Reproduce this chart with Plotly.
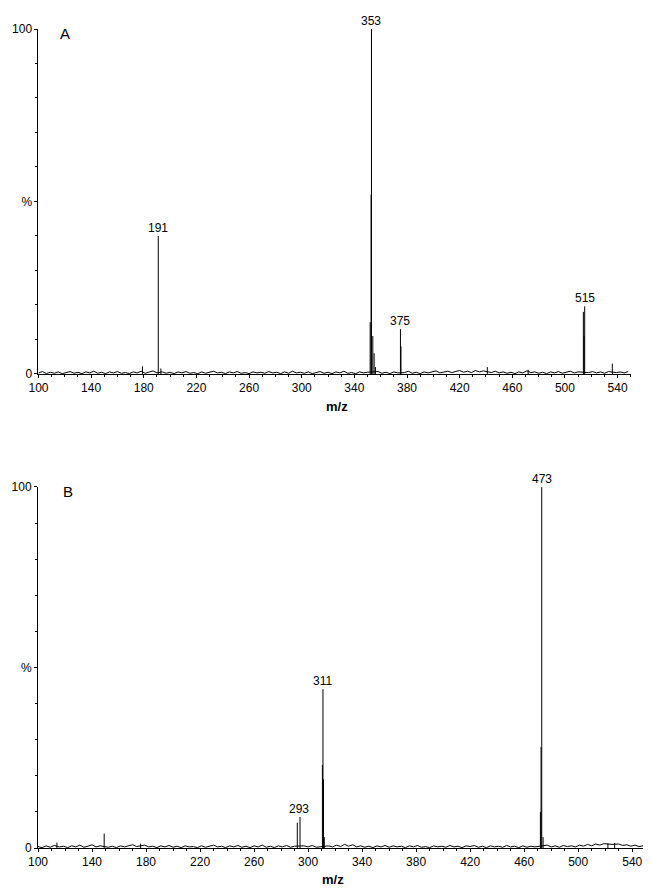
import plotly.graph_objects as go

# ---------------- data ----------------
# Panel A: main peaks (m/z, relative intensity %)
peaks_A_mz = [179, 191, 193, 352, 352.7, 353, 354, 355, 356, 375, 375.4, 441, 472, 514, 514.5, 515, 536]
peaks_A_int = [2.2, 40, 1.6, 15, 52, 100, 11, 6, 2, 13, 8, 2.0, 1.2, 18, 11, 19.6, 3.0]
labels_A_mz = [191, 353, 375, 515]
labels_A_txt = ["191", "353", "375", "515"]
labels_A_y = [40, 100, 13, 19.6]

# Panel A baseline noise
noise_A_mz = [100, 103, 106, 109, 112, 115, 118, 121, 124, 127, 130, 133, 136, 139, 142, 145, 148,
              151, 154, 157, 160, 163, 166, 169, 172, 175, 178, 181, 184, 187, 190, 194, 197, 200,
              203, 206, 209, 212, 215, 218, 221, 224, 227, 230, 233, 236, 239, 242, 245, 248, 251,
              254, 257, 260, 263, 266, 269, 272, 275, 278, 281, 284, 287, 290, 293, 296, 299, 302,
              305, 308, 311, 314, 317, 320, 323, 326, 329, 332, 335, 338, 341, 344, 347, 350, 358,
              361, 364, 367, 370, 373, 378, 381, 384, 387, 390, 393, 396, 399, 402, 405, 408, 411,
              414, 417, 420, 423, 426, 429, 432, 435, 438, 444, 447, 450, 453, 456, 459, 462, 465,
              468, 471, 474, 477, 480, 483, 486, 489, 492, 495, 498, 501, 504, 507, 510, 518, 521,
              524, 527, 530, 533, 539, 542, 545, 548]
noise_A_int = [0.3, 0.7, 0.1, 0.5, 0.2, 0.6, 0.1, 0.4, 0.7, 0.2, 0.5, 0.1, 0.6, 0.3, 0.8, 0.2, 0.5,
               0.1, 0.6, 0.3, 0.7, 0.2, 0.4, 0.1, 0.6, 0.3, 0.8, 0.2, 0.5, 0.9, 0.3, 0.6, 0.2, 0.5,
               0.1, 0.6, 0.3, 0.7, 0.2, 0.4, 0.1, 0.6, 0.2, 0.5, 0.8, 0.3, 0.5, 0.1, 0.6, 0.3, 0.7,
               0.2, 0.4, 0.1, 0.6, 0.3, 0.5, 0.2, 0.7, 0.3, 0.5, 0.1, 0.6, 0.2, 0.8, 0.3, 0.5, 0.2,
               0.6, 0.1, 0.4, 0.7, 0.2, 0.5, 0.1, 0.6, 0.3, 0.8, 0.2, 0.4, 0.1, 0.6, 0.3, 0.5, 0.7,
               0.2, 0.5, 0.1, 0.6, 0.3, 0.4, 0.8, 0.2, 0.5, 0.1, 0.6, 0.3, 0.7, 0.9, 0.3, 0.6, 0.8,
               0.4, 0.7, 1.0, 0.5, 0.8, 0.4, 1.0, 0.6, 0.9, 0.4, 0.8, 0.3, 0.6, 0.2, 0.5, 0.1, 0.6,
               0.3, 0.9, 0.4, 0.6, 0.2, 0.5, 0.1, 0.6, 0.3, 0.7, 0.2, 0.5, 0.8, 0.3, 0.6, 0.4, 0.7,
               0.3, 0.6, 0.2, 0.7, 0.4, 0.6, 0.3, 0.7, 0.4]

# Panel B: main peaks
peaks_B_mz = [114, 149, 176, 292, 294, 310.6, 311, 311.4, 312, 472, 472.5, 473, 474, 522, 527]
peaks_B_int = [1.5, 4.0, 1.2, 7.0, 8.6, 23, 44, 19, 3, 10, 28, 100, 3, 1.3, 1.4]
labels_B_mz = [293, 311, 473]
labels_B_txt = ["293", "311", "473"]
labels_B_y = [8.6, 44, 100]

noise_B_mz = [100, 103, 106, 109, 112, 116, 119, 122, 125, 128, 131, 134, 137, 140, 143, 146, 152,
              155, 158, 161, 164, 167, 170, 173, 179, 182, 185, 188, 191, 194, 197, 200, 203, 206,
              209, 212, 215, 218, 221, 224, 227, 230, 233, 236, 239, 242, 245, 248, 251, 254, 257,
              260, 263, 266, 269, 272, 275, 278, 281, 284, 287, 290, 297, 300, 303, 306, 315, 318,
              321, 324, 327, 330, 333, 336, 339, 342, 345, 348, 351, 354, 357, 360, 363, 366, 369,
              372, 375, 378, 381, 384, 387, 390, 393, 396, 399, 402, 405, 408, 411, 414, 417, 420,
              423, 426, 429, 432, 435, 438, 441, 444, 447, 450, 453, 456, 459, 462, 465, 468, 477,
              480, 483, 486, 489, 492, 495, 498, 501, 504, 507, 510, 513, 516, 519, 525, 530, 533,
              536, 539, 542, 545, 548]
noise_B_int = [0.4, 0.1, 0.6, 0.2, 0.7, 0.3, 0.5, 0.1, 0.6, 0.3, 0.8, 0.2, 0.5, 0.9, 0.3, 0.6, 0.2,
               0.5, 0.1, 0.6, 0.3, 0.7, 0.9, 0.4, 0.8, 0.3, 0.5, 0.1, 0.6, 0.3, 0.7, 0.2, 0.5, 0.1,
               0.6, 0.3, 0.4, 0.1, 0.6, 0.2, 0.5, 0.8, 0.3, 0.5, 0.1, 0.6, 0.3, 0.7, 0.2, 0.5, 0.1,
               0.6, 0.3, 0.8, 0.2, 0.5, 0.1, 0.6, 0.3, 0.7, 0.2, 0.5, 0.6, 0.3, 0.7, 0.2, 0.6, 0.3,
               0.8, 0.4, 1.0, 0.5, 0.9, 0.3, 0.6, 0.2, 0.5, 0.1, 0.6, 0.3, 0.7, 0.2, 0.6, 0.3, 0.5,
               0.1, 0.6, 0.3, 0.7, 0.2, 0.4, 0.1, 0.6, 0.3, 0.5, 0.2, 0.7, 0.3, 0.5, 0.1, 0.6, 0.4,
               0.7, 0.2, 0.5, 0.1, 0.6, 0.3, 0.5, 0.2, 0.7, 0.3, 0.5, 0.1, 0.6, 0.2, 0.5, 0.3, 0.8,
               0.3, 0.6, 0.2, 0.7, 0.4, 0.6, 0.3, 0.8, 0.5, 1.0, 0.6, 1.1, 0.8, 1.2, 1.0, 1.1, 0.7,
               0.9, 0.5, 0.8, 0.4, 0.6]

x_ticks = [100, 140, 180, 220, 260, 300, 340, 380, 420, 460, 500, 540]
y_tickvals = [0, 50, 100]
y_ticktext = ["0", "%", "100"]

FONT = "Liberation Sans, Arial, sans-serif"


def sticks(mz, inten):
    xs, ys = [], []
    for m, h in zip(mz, inten):
        xs += [m, m, None]
        ys += [0, h, None]
    return xs, ys


fig = go.Figure()

xa, ya = sticks(peaks_A_mz, peaks_A_int)
xb, yb = sticks(peaks_B_mz, peaks_B_int)

fig.add_trace(go.Scatter(x=noise_A_mz, y=noise_A_int, mode="lines",
                         line=dict(color="black", width=1), xaxis="x", yaxis="y",
                         showlegend=False, hoverinfo="skip"))
fig.add_trace(go.Scatter(x=xa, y=ya, mode="lines", line=dict(color="black", width=1),
                         xaxis="x", yaxis="y", showlegend=False))
fig.add_trace(go.Scatter(x=noise_B_mz, y=noise_B_int, mode="lines",
                         line=dict(color="black", width=1), xaxis="x2", yaxis="y2",
                         showlegend=False, hoverinfo="skip"))
fig.add_trace(go.Scatter(x=xb, y=yb, mode="lines", line=dict(color="black", width=1),
                         xaxis="x2", yaxis="y2", showlegend=False))

common_x = dict(showline=True, linecolor="black", linewidth=1, showgrid=False, zeroline=False,
                tickvals=x_ticks, ticks="outside", ticklen=3, tickcolor="black",
                tickfont=dict(family=FONT, size=12, color="black"),
                minor=dict(dtick=10, ticks="outside", ticklen=2, tickcolor="black"))
common_y = dict(showline=True, linecolor="black", linewidth=1, showgrid=False, zeroline=False,
                range=[0, 100], tickvals=y_tickvals, ticktext=y_ticktext,
                ticks="outside", ticklen=3, tickcolor="black",
                tickfont=dict(family=FONT, size=12, color="black"),
                minor=dict(tickvals=[10, 20, 30, 40, 60, 70, 80, 90], ticks="outside",
                           ticklen=2, tickcolor="black"))

# page body has an 8px margin; keep the page from scrolling
fig.update_layout(
    width=643, height=879,
    margin=dict(l=30, r=0, t=21, b=39),
    paper_bgcolor="white", plot_bgcolor="white",
    xaxis=dict(domain=[0.0008, 0.967], range=[100, 550], anchor="y", **common_x),
    yaxis=dict(domain=[0.5788, 1.0], anchor="x", **common_y),
    xaxis2=dict(domain=[0.0, 0.987], range=[100, 548], anchor="y2", **common_x),
    yaxis2=dict(domain=[0.0, 0.4408], anchor="x2", **common_y),
    font=dict(family=FONT, size=12, color="black"),
)

annos = []
for m, t, h in zip(labels_A_mz, labels_A_txt, labels_A_y):
    annos.append(dict(x=m, y=h, xref="x", yref="y", text=t, showarrow=False,
                      yanchor="bottom", xanchor="center", yshift=-1,
                      font=dict(family=FONT, size=12, color="black")))
for m, t, h in zip(labels_B_mz, labels_B_txt, labels_B_y):
    annos.append(dict(x=m, y=h, xref="x2", yref="y2", text=t, showarrow=False,
                      yanchor="bottom", xanchor="center", yshift=-1,
                      font=dict(family=FONT, size=12, color="black")))

# panel letters
annos.append(dict(x=0.044, y=1.0, xref="paper", yref="y domain", text="A", showarrow=False,
                  xanchor="center", yanchor="middle", yshift=-4,
                  font=dict(family=FONT, size=15, color="black")))
annos.append(dict(x=0.049, y=1.0, xref="paper", yref="y2 domain", text="B", showarrow=False,
                  xanchor="center", yanchor="middle", yshift=-5,
                  font=dict(family=FONT, size=15, color="black")))
# axis titles
annos.append(dict(x=0.488, y=0, xref="paper", yref="y domain", text="<b>m/z</b>", showarrow=False,
                  xanchor="center", yanchor="middle", yshift=-33,
                  font=dict(family=FONT, size=13, color="black")))
annos.append(dict(x=0.482, y=0, xref="paper", yref="y2 domain", text="<b>m/z</b>", showarrow=False,
                  xanchor="center", yanchor="middle", yshift=-31,
                  font=dict(family=FONT, size=13, color="black")))

fig.update_layout(annotations=annos)

fig.write_html("out.html")
